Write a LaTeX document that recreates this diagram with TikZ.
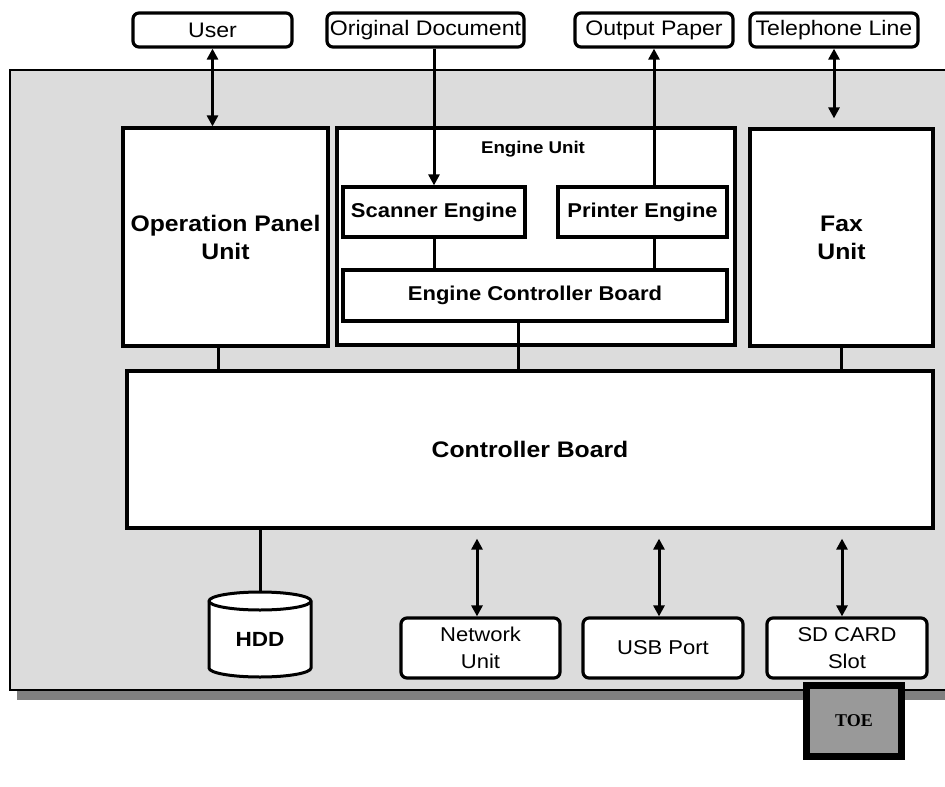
\documentclass[tikz,border=0pt]{standalone}
\usepackage{fontspec}
\setmainfont{Liberation Sans}[FakeStretch=1.1]
\newfontfamily\toefont{Liberation Serif}
\usetikzlibrary{arrows.meta,calc}
\definecolor{framegray}{HTML}{DCDCDC}
\definecolor{shadowgray}{HTML}{808080}
\definecolor{toegray}{HTML}{999999}
\begin{document}
\begin{tikzpicture}[x=1pt,y=-1pt,
  box/.style={draw, line width=3.2pt, fill=white, inner sep=0pt, align=center},
  ext/.style={draw, line width=3.2pt, fill=white, rounded corners=6pt, inner sep=0pt, align=center},
  topf/.style={font=\fontsize{21}{27}\selectfont},
  botf/.style={font=\fontsize{20}{27}\selectfont},
  bigb/.style={font=\bfseries\fontsize{22.5}{28}\selectfont},
  midb/.style={font=\bfseries\fontsize{20}{25}\selectfont},
  conn/.style={line width=3pt},
  tip/.style={conn, -{Triangle[length=11pt,width=11pt]}},
  dtip/.style={conn, {Triangle[length=11pt,width=11pt]}-{Triangle[length=11pt,width=11pt]}},
]
\useasboundingbox (0,0) rectangle (945,787);
\clip (0,0) rectangle (945,787);

% housing
\fill[shadowgray] (17,78) rectangle (960,700);
\draw[line width=2pt, fill=framegray] (10,70) rectangle (960,690);

% external boxes (top)
\node[ext, topf, minimum width=159pt, minimum height=34pt] (user) at (212.5,30) {User};
\node[ext, topf, minimum width=197pt, minimum height=34pt] (doc) at (425.5,30) {Original Document};
\node[ext, topf, minimum width=158pt, minimum height=34pt] (out) at (654,30) {Output Paper};
\node[ext, topf, minimum width=168pt, minimum height=34pt] (tel) at (834,30) {Telephone Line};

% units
\node[box, bigb, minimum width=205pt, minimum height=218pt] (opu) at (225.5,237) {Operation Panel\\Unit};
\node[box, minimum width=398pt, minimum height=217pt] (eng) at (536,236.5) {};
\node[font=\bfseries\fontsize{17}{21}\selectfont] (englbl) at (533,149) {Engine Unit};
\node[box, bigb, minimum width=183pt, minimum height=217pt] (fax) at (841.5,237.5) {Fax\\Unit};
\node[box, midb, minimum width=182pt, minimum height=50pt] (scan) at (434,212) {Scanner Engine};
\node[box, midb, minimum width=169pt, minimum height=50pt] (prn) at (642.5,212) {Printer Engine};
\node[box, midb, minimum width=384pt, minimum height=51pt] (ecb) at (535,295.5) {Engine Controller Board};
\node[box, bigb, minimum width=806pt, minimum height=157pt] (ctrl) at (530,449.5) {Controller Board};

% peripherals (bottom)
\node[ext, botf, minimum width=159pt, minimum height=60pt] (net) at (480.5,648) {Network\\Unit};
\node[ext, botf, minimum width=160pt, minimum height=60pt] (usb) at (663,648) {USB Port};
\node[ext, botf, minimum width=160pt, minimum height=60pt] (sd) at (847,648) {SD CARD\\Slot};

% HDD cylinder
\filldraw[fill=white, line width=3pt]
  (209,601) -- (209,668) arc[start angle=180, end angle=360, x radius=51pt, y radius=9pt]
  -- (311,601) arc[start angle=0, end angle=180, x radius=51pt, y radius=9pt] -- cycle;
\draw[line width=3pt] (209,601) arc[start angle=180, end angle=360, x radius=51pt, y radius=9pt];
\coordinate (hddtop) at (260,592);
\node[font=\bfseries\fontsize{20.5}{25}\selectfont] (hdd) at (260,639) {HDD};

% TOE
\node[draw, line width=7pt, fill=toegray, minimum width=95pt, minimum height=71pt,
  font=\toefont\bfseries\fontsize{18}{22}\selectfont] (toe) at (854,721) {TOE};

% connectors
\draw[dtip] (user.south) -- (opu.north -| user.south);
\draw[tip] (doc.south -| scan.north) -- (scan.north);
\draw[tip] (prn.north -| out.south) -- (out.south);
\draw[dtip, shorten >=9pt] (tel.south) -- (fax.north -| tel.south);

\draw[conn] (scan.south) -- (ecb.north -| scan.south);
\draw[conn] (prn.north -| out.south) ++(0,50) coordinate (pb) -- (ecb.north -| pb);
\draw[conn] (ecb.south -| 518,0) -- (ctrl.north -| 518,0);
\draw[conn] (opu.south -| 218,0) -- (ctrl.north -| 218,0);
\draw[conn] (fax.south) -- (ctrl.north -| fax.south);
\draw[conn] (ctrl.south -| hddtop) -- (hddtop);

\draw[dtip, shorten <=9pt] (ctrl.south -| 477,0) -- (net.north -| 477,0);
\draw[dtip, shorten <=9pt] (ctrl.south -| 659,0) -- (usb.north -| 659,0);
\draw[dtip, shorten <=9pt] (ctrl.south -| 842,0) -- (sd.north -| 842,0);
\end{tikzpicture}
\end{document}
